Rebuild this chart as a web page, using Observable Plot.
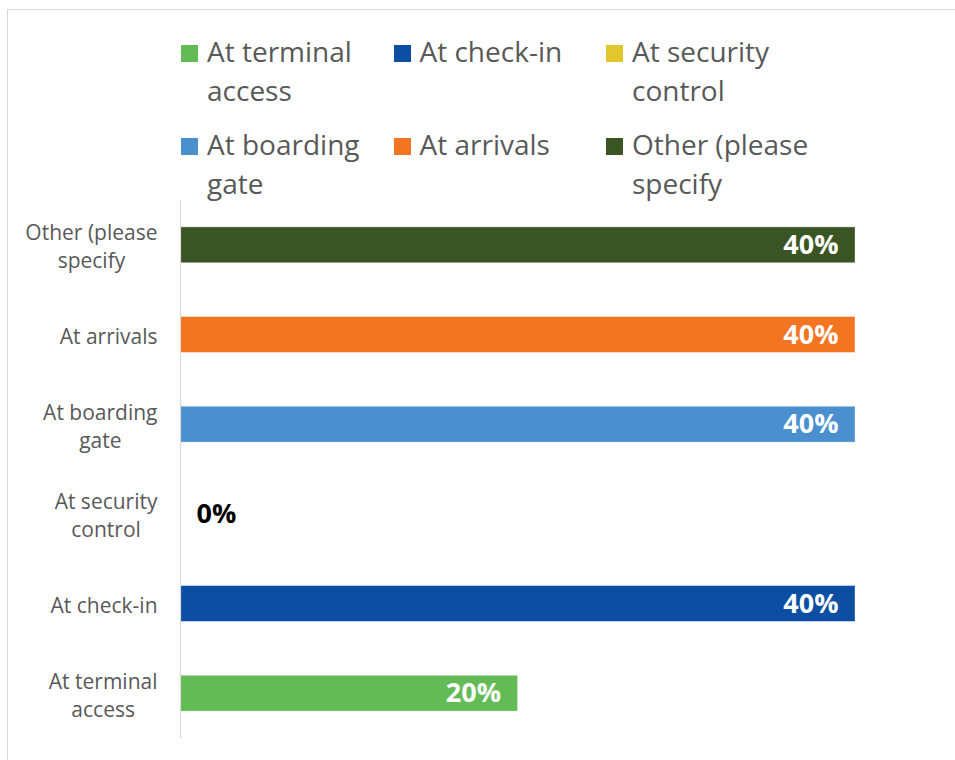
<!DOCTYPE html>
<html>
<head>
<meta charset="utf-8">
<script src="https://cdn.jsdelivr.net/npm/d3@7"></script>
<script src="https://cdn.jsdelivr.net/npm/@observablehq/plot@0.6"></script>
<style>
  html, body { margin: 0; padding: 0; background: #fff; overflow: hidden; width: 955px; height: 760px; }
  #frame { position: absolute; left: 7px; top: 9px; width: 1000px; height: 1000px; border: 1px solid #d9d9d9; box-sizing: border-box; }
  #wrap { position: absolute; left: 0; top: 0; width: 955px; }
  #legend { position: relative; width: 955px; height: 200px; font-family: "Open Sans", sans-serif; font-size: 28px; color: #595959; }
  .item { position: absolute; display: flex; align-items: flex-start; }
  .sw { width: 17px; height: 17px; margin-top: 13px; margin-right: 9px; flex: none; }
  .lbl { width: 185px; line-height: 39px; }
  #chart svg { display: block; overflow: visible; }
</style>
</head>
<body>
<div id="frame"></div>
<div id="wrap">
  <div id="legend"></div>
  <div id="chart"></div>
</div>
<script>
// ---- data ----
const categories = ["At terminal access", "At check-in", "At security control", "At boarding gate", "At arrivals", "Other (please specify"];
const values = [0.20, 0.40, 0.00, 0.40, 0.40, 0.40];
const colors = ["#63bb55", "#0c4ea2", "#e1c72b", "#4a8fce", "#f37421", "#3a5523"];
const tickLabels = ["At terminal\naccess", "At check-in", "At security\ncontrol", "At boarding\ngate", "At arrivals", "Other (please\nspecify"];
const legendOrder = [0, 1, 2, 3, 4, 5];

const data = categories.map((c, i) => ({category: c, value: values[i], label: tickLabels[i]}));
const yDomain = categories.slice().reverse();

// ---- legend ----
const legend = document.getElementById("legend");
legendOrder.forEach((idx, k) => {
  const col = k % 3, row = Math.floor(k / 3);
  const it = document.createElement("div");
  it.className = "item";
  it.style.left = (181 + col * 212.5) + "px";
  it.style.top = (32 + row * 93) + "px";
  const sw = document.createElement("div");
  sw.className = "sw";
  sw.style.background = colors[idx];
  const lb = document.createElement("div");
  lb.className = "lbl";
  lb.textContent = categories[idx];
  it.appendChild(sw); it.appendChild(lb);
  legend.appendChild(it);
});

// ---- measure axis labels ----
const ctx = document.createElement("canvas").getContext("2d");
ctx.font = "21px 'Open Sans'";
const labelWidth = s => Math.max(...s.split("\n").map(l => ctx.measureText(l).width));

const labelMarks = data.map(d => Plot.text([d], {
  y: "category",
  text: "label",
  frameAnchor: "left",
  textAnchor: "middle",
  lineAnchor: "middle",
  lineHeight: 1.33,
  dx: -23 - labelWidth(d.label) / 2,
  fill: "#595959",
  fontSize: 21
}));

const fmt = d3.format(".0%");

const chart = Plot.plot({
  width: 955,
  height: 560,
  marginTop: 0,
  marginBottom: 22,
  marginLeft: 180,
  marginRight: 100,
  style: {fontFamily: "'Open Sans', sans-serif", background: "transparent"},
  x: {domain: [0, 0.4], axis: null},
  y: {domain: yDomain, axis: null, paddingInner: 0.6, paddingOuter: 0.3, round: false},
  color: {domain: categories, range: colors},
  marks: [
    Plot.barX(data, {x: "value", y: "category", fill: "category", stroke: "#ffffff", strokeWidth: 0.7, strokeOpacity: 0.5}),
    Plot.ruleX([0], {stroke: "#d9d9d9", strokeWidth: 1.2}),
    Plot.text(data.filter(d => d.value > 0), {
      x: "value", y: "category", text: d => fmt(d.value),
      textAnchor: "end", dx: -17, fill: "#ffffff", fontWeight: "bold", fontSize: 27
    }),
    Plot.text(data.filter(d => d.value === 0), {
      x: "value", y: "category", text: d => fmt(d.value),
      textAnchor: "start", dx: 16, fill: "#000000", fontWeight: "bold", fontSize: 27
    }),
    ...labelMarks
  ]
});
document.getElementById("chart").appendChild(chart);
</script>
</body>
</html>
